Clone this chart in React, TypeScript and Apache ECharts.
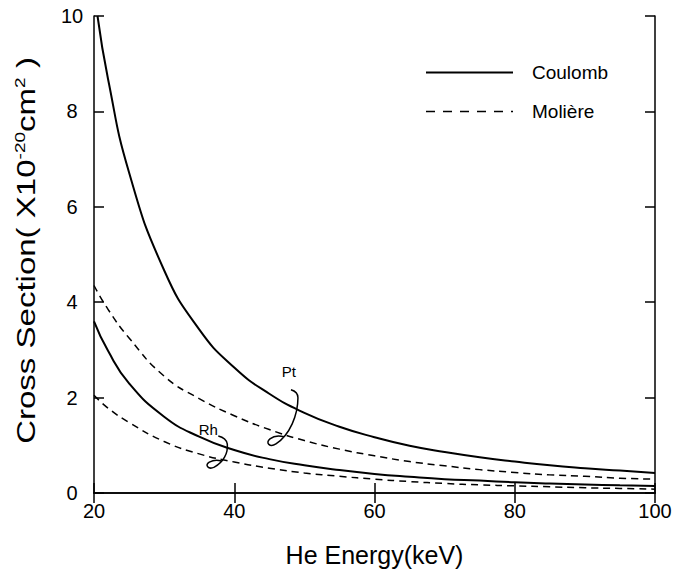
import React, { useEffect, useRef } from "react";
import * as echarts from "echarts";

// He energy (keV) at which the curves were read
const energies = [20, 22, 25, 30, 35, 40, 45, 50, 55, 60, 65, 70, 75, 80, 85, 90, 95, 100];
const ptCoulombEnergies = [20.5, 22, 25, 30, 35, 40, 45, 50, 55, 60, 65, 70, 75, 80, 85, 90, 95, 100];

// Cross sections (x 10^-20 cm^2)
const ptCoulomb = [10, 8.68, 6.72, 4.67, 3.43, 2.63, 2.08, 1.68, 1.39, 1.17, 0.99, 0.86, 0.75, 0.66, 0.58, 0.52, 0.47, 0.42];
const ptMoliere = [4.35, 3.85, 3.25, 2.45, 1.98, 1.62, 1.33, 1.1, 0.92, 0.78, 0.66, 0.57, 0.49, 0.43, 0.38, 0.35, 0.31, 0.29];
const rhCoulomb = [3.6, 2.98, 2.3, 1.6, 1.18, 0.9, 0.71, 0.58, 0.48, 0.4, 0.34, 0.29, 0.26, 0.225, 0.2, 0.18, 0.16, 0.145];
const rhMoliere = [2.05, 1.78, 1.48, 1.08, 0.82, 0.65, 0.52, 0.42, 0.35, 0.29, 0.24, 0.2, 0.17, 0.15, 0.13, 0.11, 0.095, 0.08];

const legendNames = ["Coulomb", "Molière"];
const xTicks = { min: 20, max: 100, interval: 20 };
const yTicks = { min: 0, max: 10, interval: 2 };
const xTitle = "He Energy(keV)";
const yTitle = "Cross Section( X10{sup|-20}cm{sup|2} )";

// annotation anchors in data coordinates
const ptLabelAt = [47.8, 2.54];
const rhLabelAt = [36.3, 1.34];

const FONT = "Liberation Sans, Arial, Helvetica, sans-serif";

let registered = false;
function registerBrackets() {
  if (registered) return;
  registered = true;
  echarts.graphic.registerShape(
    "ptBracket",
    echarts.graphic.extendPath(
      "M2 18 Q9 20 9 26 C9 43 1 63 -13 72 C-19 76 -24 71 -19 67 C-15 64 -9 64 -5 65",
      {}
    )
  );
  echarts.graphic.registerShape(
    "rhBracket",
    echarts.graphic.extendPath(
      "M10 7 Q18 9 19 15 C20 24 15 33 6 38 C0 41 -4 36 1 33 C5 31 10 31 13 32",
      {}
    )
  );
}

const zip = (xs: number[], ys: number[]) => xs.map((x, i) => [x, ys[i]]);

export default function App() {
  const ref = useRef<HTMLDivElement>(null);
  useEffect(() => {
    document.body.style.margin = "0";
    registerBrackets();
    const chart = echarts.init(ref.current!, null, { renderer: "svg" });
    const axisLine = { show: true, lineStyle: { color: "#000", width: 1.5 } };
    const axisTick = { show: true, inside: true, length: 10, lineStyle: { color: "#000", width: 1.5 } };
    const solid = { color: "#000", width: 2, type: "solid" as const };
    const dashed = { color: "#000", width: 1.5, type: [7, 5] as any };
    const option: any = {
      animation: false,
      backgroundColor: "#fff",
      grid: { left: 94, right: 34, top: 16, bottom: 79, outerBoundsMode: "none", containLabel: false },
      legend: {
        data: [
          { name: legendNames[0] },
          { name: legendNames[1], lineStyle: { type: [9, 8], width: 1.5, color: "#000" } },
        ],
        orient: "vertical",
        left: 420,
        top: 58,
        itemWidth: 87,
        itemHeight: 14,
        itemGap: 20,
        itemStyle: { opacity: 0 },
        textStyle: { fontFamily: FONT, fontSize: 19, color: "#000", padding: [0, 0, 0, 14] },
      },
      xAxis: [
        {
          type: "value",
          ...xTicks,
          position: "bottom",
          name: xTitle,
          nameLocation: "middle",
          nameGap: 49,
          nameTextStyle: { fontFamily: FONT, fontSize: 25, color: "#000" },
          axisLine,
          axisTick,
          splitLine: { show: false },
          axisLabel: { fontFamily: FONT, fontSize: 20, color: "#000", margin: 8 },
        },
        {
          type: "value",
          ...xTicks,
          position: "top",
          axisLine,
          axisTick,
          splitLine: { show: false },
          axisLabel: { show: false },
        },
      ],
      yAxis: [
        {
          type: "value",
          ...yTicks,
          position: "left",
          axisLine,
          axisTick,
          splitLine: { show: false },
          axisLabel: { fontFamily: FONT, fontSize: 20, color: "#000", margin: 22, align: "center" },
        },
        {
          type: "value",
          ...yTicks,
          position: "right",
          axisLine,
          axisTick,
          splitLine: { show: false },
          axisLabel: { show: false },
        },
      ],
      series: [
        { name: "Coulomb", type: "line", data: zip(ptCoulombEnergies, ptCoulomb), smooth: true, symbol: "none", lineStyle: solid, itemStyle: { color: "#000" } },
        { name: "Molière", type: "line", data: zip(energies, ptMoliere), smooth: true, symbol: "none", lineStyle: dashed, itemStyle: { color: "#000" } },
        { name: "Coulomb", type: "line", data: zip(energies, rhCoulomb), smooth: true, symbol: "none", lineStyle: solid, itemStyle: { color: "#000" } },
        { name: "Molière", type: "line", data: zip(energies, rhMoliere), smooth: true, symbol: "none", lineStyle: dashed, itemStyle: { color: "#000" } },
      ],
    };
    chart.setOption(option);
    const pt = chart.convertToPixel({ gridIndex: 0 }, ptLabelAt) as number[];
    const rh = chart.convertToPixel({ gridIndex: 0 }, rhLabelAt) as number[];
    const top = chart.convertToPixel({ yAxisIndex: 0 }, yTicks.max) as number;
    const bottom = chart.convertToPixel({ yAxisIndex: 0 }, yTicks.min) as number;
    chart.setOption({
      graphic: [
        {
          type: "text",
          x: 26,
          y: (top + bottom) / 2 - 4,
          rotation: Math.PI / 2,
          scaleX: 1.27,
          style: {
            text: yTitle,
            fontFamily: FONT,
            fontSize: 26,
            fill: "#000",
            align: "center",
            verticalAlign: "middle",
            rich: {
              sup: { fontFamily: FONT, fontSize: 15, fill: "#000", verticalAlign: "top", lineHeight: 28 },
            },
          },
        },
        { type: "text", x: pt[0], y: pt[1], style: { text: "Pt", fontFamily: FONT, fontSize: 15, fill: "#000", align: "center", verticalAlign: "middle" } },
        { type: "ptBracket", x: pt[0], y: pt[1], style: { stroke: "#000", fill: "none", lineWidth: 1.5 } },
        { type: "text", x: rh[0], y: rh[1], style: { text: "Rh", fontFamily: FONT, fontSize: 15, fill: "#000", align: "center", verticalAlign: "middle" } },
        { type: "rhBracket", x: rh[0], y: rh[1], style: { stroke: "#000", fill: "none", lineWidth: 1.5 } },
      ],
    });
    return () => chart.dispose();
  }, []);
  return <div ref={ref} style={{ width: 689, height: 572 }} />;
}
